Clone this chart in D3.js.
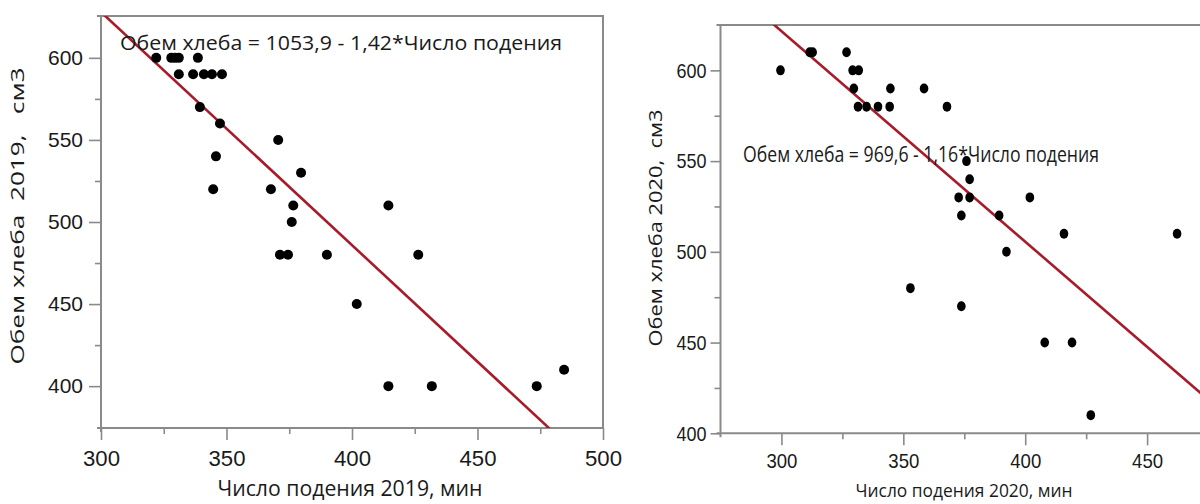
<!DOCTYPE html>
<html>
<head>
<meta charset="utf-8">
<script src="https://cdn.jsdelivr.net/npm/d3@7"></script>
<style>
  html, body { margin: 0; padding: 0; background: #fff; }
  svg { display: block; font-family: "Open Sans", "Noto Sans", sans-serif; }
  .lbl { white-space: pre; fill: #1a1a1a; }
</style>
</head>
<body>
<svg id="chart" width="1200" height="504"></svg>
<script>
// Falling number (min) vs. bread volume (cm3), season 2019
const fallingNumber2019 = [322, 328, 329.5, 331, 338.6,
                           331, 336.7, 341, 344.2, 348.2,
                           339.4, 347.4, 370.6, 345.8, 379.7,
                           344.7, 367.7, 376.6, 414.5, 376,
                           371.3, 374.5, 390, 426.4, 401.9,
                           484.5, 414.5, 431.8, 473.6];
const breadVolume2019 = [600, 600, 600, 600, 600,
                         590, 590, 590, 590, 590,
                         570, 560, 550, 540, 530,
                         520, 520, 510, 510, 500,
                         480, 480, 480, 480, 450,
                         410, 400, 400, 400];
const regression2019 = [1053.9, -1.42];   // intercept, slope
const xTicks2019 = [300, 350, 400, 450, 500];
const yTicks2019 = [400, 450, 500, 550, 600];
const xMinor2019 = [325, 375, 425, 475];
const yMinor2019 = [425, 475, 525, 575];

// Falling number (min) vs. bread volume (cm3), season 2020
const fallingNumber2020 = [311.6, 312.8, 326.7,
                           299.6, 329.2, 331.7,
                           329.7, 344.7, 358.5,
                           331.4, 334.9, 339.6, 344.4, 367.9,
                           375.9, 377.2,
                           372.7, 377.2, 401.9,
                           373.8, 389.3,
                           415.9, 462.3,
                           392.3, 352.9, 373.8,
                           408, 419.2, 426.9];
const breadVolume2020 = [610, 610, 610,
                         600, 600, 600,
                         590, 590, 590,
                         580, 580, 580, 580, 580,
                         550, 540,
                         530, 530, 530,
                         520, 520,
                         510, 510,
                         500, 480, 470,
                         450, 450, 410];
const regression2020 = [969.6, -1.16];
const xTicks2020 = [300, 350, 400, 450];
const yTicks2020 = [400, 450, 500, 550, 600];
const xMinor2020 = [325, 375, 425, 475];
const yMinor2020 = [425, 475, 525, 575];

const svg = d3.select("#chart");
const GRID = "#8a8a8a";
const FIT = "#a51c2b";

function drawPanel(p) {
  const x = d3.scaleLinear().domain(p.xDomain).range([p.left, p.right]);
  const y = d3.scaleLinear().domain(p.yDomain).range([p.bottom, p.top]);
  const g = svg.append("g");

  const clipId = "clip-" + p.id;
  svg.append("clipPath").attr("id", clipId)
    .append("rect")
    .attr("x", p.left).attr("y", p.top)
    .attr("width", p.right - p.left).attr("height", p.bottom - p.top);

  // frame: top and right edges
  g.append("path")
    .attr("d", `M${p.left - 4},${p.top}H${p.right}V${p.bottom}`)
    .attr("fill", "none").attr("stroke", GRID).attr("stroke-width", 2);

  // axes
  const styleAxis = (sel, fs, w) => {
    sel.select(".domain").remove();
    sel.selectAll(".tick line").attr("stroke", GRID).attr("stroke-width", 1.6);
    sel.selectAll(".tick text")
      .attr("fill", "#1a1a1a")
      .style("font-size", fs + "px")
      .attr("textLength", w)
      .attr("lengthAdjust", "spacingAndGlyphs");
  };

  const xAxis = g.append("g").attr("transform", `translate(0,${p.bottom})`)
    .call(d3.axisBottom(x).tickValues(p.xTicks).tickFormat(d3.format("d"))
      .tickSize(12).tickPadding(p.xPad));
  styleAxis(xAxis, p.xFont, p.xTickW);
  const xMinorAxis = g.append("g").attr("transform", `translate(0,${p.bottom})`)
    .call(d3.axisBottom(x).tickValues(p.xMinor).tickFormat("").tickSize(6));
  styleAxis(xMinorAxis, 1, null);

  const yAxis = g.append("g").attr("transform", `translate(${p.left},0)`)
    .call(d3.axisLeft(y).tickValues(p.yTicks).tickFormat(d3.format("d"))
      .tickSize(p.yTickSize).tickPadding(p.yPad));
  styleAxis(yAxis, p.yFont, p.yTickW);
  const yMinorAxis = g.append("g").attr("transform", `translate(${p.left},0)`)
    .call(d3.axisLeft(y).tickValues(p.yMinor).tickFormat("").tickSize(6));
  styleAxis(yMinorAxis, 1, null);

  // axis lines
  g.append("line")
    .attr("x1", p.left).attr("x2", p.left).attr("y1", p.top).attr("y2", p.bottom + 4)
    .attr("stroke", GRID).attr("stroke-width", 2);
  g.append("line")
    .attr("x1", p.left - 4).attr("x2", p.right).attr("y1", p.bottom).attr("y2", p.bottom)
    .attr("stroke", GRID).attr("stroke-width", 2);

  // regression line
  const [b0, b1] = p.fit;
  g.append("line")
    .attr("clip-path", `url(#${clipId})`)
    .attr("x1", x(p.xDomain[0])).attr("y1", y(b0 + b1 * p.xDomain[0]))
    .attr("x2", x(p.xDomain[1])).attr("y2", y(b0 + b1 * p.xDomain[1]))
    .attr("stroke", FIT).attr("stroke-width", 2.6);

  // observations
  g.append("g").selectAll("ellipse")
    .data(p.xs.map((v, i) => [v, p.ys[i]]))
    .join("ellipse")
    .attr("cx", d => x(d[0])).attr("cy", d => y(d[1]))
    .attr("rx", p.rx).attr("ry", p.ry)
    .attr("fill", "#000");

  // regression equation
  g.append("text").attr("class", "lbl")
    .attr("x", p.eq.x).attr("y", p.eq.y)
    .style("font-size", p.eq.fs + "px")
    .attr("textLength", p.eq.w).attr("lengthAdjust", "spacingAndGlyphs")
    .text(p.eq.text);

  // axis titles
  g.append("text").attr("class", "lbl")
    .attr("text-anchor", "middle")
    .attr("x", p.xTitle.x).attr("y", p.xTitle.y)
    .style("font-size", p.xTitle.fs + "px")
    .attr("textLength", p.xTitle.w).attr("lengthAdjust", "spacingAndGlyphs")
    .text(p.xTitle.text);
  g.append("text").attr("class", "lbl")
    .attr("text-anchor", "middle")
    .attr("transform", `translate(${p.yTitle.x},${p.yTitle.y}) rotate(-90)`)
    .style("font-size", p.yTitle.fs + "px")
    .attr("textLength", p.yTitle.w).attr("lengthAdjust", "spacingAndGlyphs")
    .text(p.yTitle.text);
}

drawPanel({
  id: "2019",
  left: 101, right: 603, top: 16, bottom: 428,
  xDomain: [300, 500], yDomain: [374.5, 625.5],
  xTicks: xTicks2019, yTicks: yTicks2019, xMinor: xMinor2019, yMinor: yMinor2019,
  xPad: 10, yPad: 6, yTickSize: 12,
  xFont: 22, yFont: 21, xTickW: 37, yTickW: 35,
  xs: fallingNumber2019, ys: breadVolume2019, fit: regression2019,
  rx: 5, ry: 5,
  eq: { x: 120, y: 50, fs: 20, w: 442, text: "Обем хлеба = 1053,9 - 1,42*Число подения" },
  xTitle: { x: 350, y: 496, fs: 21, w: 265, text: "Число подения 2019, мин" },
  yTitle: { x: 24, y: 216, fs: 19, w: 297, text: "Обем хлеба  2019,   см3" }
});

drawPanel({
  id: "2020",
  left: 720.5, right: 1269, top: 25, bottom: 433.3,
  xDomain: [275, 500], yDomain: [400, 625],
  xTicks: xTicks2020, yTicks: yTicks2020, xMinor: xMinor2020, yMinor: yMinor2020,
  xPad: 8, yPad: 4, yTickSize: 10,
  xFont: 21, yFont: 21, xTickW: 31, yTickW: 30,
  xs: fallingNumber2020, ys: breadVolume2020, fit: regression2020,
  rx: 4.3, ry: 5,
  eq: { x: 743, y: 162, fs: 22, w: 356, text: "Обем хлеба = 969,6 - 1,16*Число подения" },
  xTitle: { x: 964, y: 497, fs: 19, w: 217, text: "Число подения 2020, мин" },
  yTitle: { x: 662, y: 228, fs: 18, w: 237, text: "Обем хлеба 2020,  см3" }
});
</script>
</body>
</html>
